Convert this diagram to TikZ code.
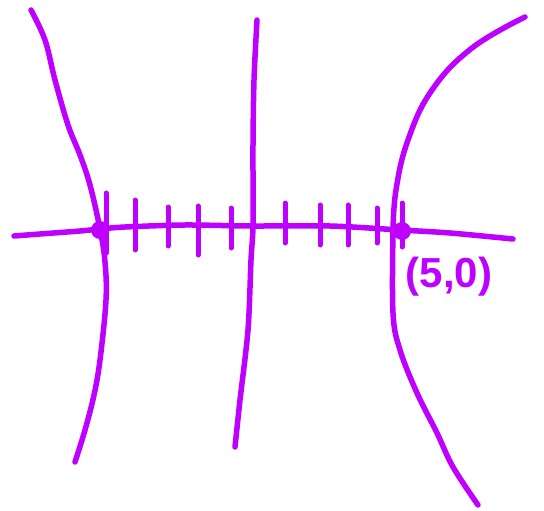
\documentclass[tikz,border=0pt]{standalone}
\usepackage{fontspec}
\setmainfont{Liberation Sans}
\definecolor{pen}{RGB}{190,0,255}
\begin{document}
\begin{tikzpicture}[x=1pt,y=-1pt,
  ink/.style={draw=pen,line width=5.5pt,line cap=round,line join=round},
  tick/.style={ink,line width=5pt},
  vdot/.style={circle,fill=pen,minimum size=18pt,inner sep=0pt},
  lbl/.style={text=pen,font=\bfseries\fontsize{42}{42}\selectfont,inner sep=0pt}]
\useasboundingbox (0,0) rectangle (544,511);
% x-axis
\draw[ink] plot[smooth,tension=0.5] coordinates {(14,236) (40,234) (80,231) (100,229) (125,227) (185,225) (250,226) (330,226) (400,230) (450,233) (513,239)};
% y-axis
\draw[ink] plot[smooth,tension=0.5] coordinates {(257,20) (254,80) (253,145) (253,225) (251,260) (248,330) (240,400) (235,447)};
% ticks
\foreach \x/\a/\b in {106/193/253,135/200/250,168/207/246,198/206/255,231/208/248,285/203/243,320/205/245,348/205/245,377/208/243,402/203/247}
  \draw[tick] (\x,\a) -- (\x,\b);
% left branch
\draw[ink] plot[smooth,tension=0.6] coordinates {(31,10) (45,40) (55,80) (68,125) (80,155) (90,185) (100,229) (105,262) (106,300) (100,360) (94,395) (85,430) (75,462)};
% right branch
\draw[ink] plot[smooth,tension=0.7] coordinates {(525,17) (472,48) (432,90) (408,140) (396,190) (393,232)};
\draw[ink] plot[smooth,tension=0.6] coordinates {(393,232) (393,313) (400,350) (417,393) (437,433) (453,467) (478,505)};
% vertices
\node[vdot] (lv) at (100,230) {};
\node[vdot] (rv) at (402,231) {};
% label
\node[lbl] (lab) at (449,277) {(5,0)};
\end{tikzpicture}
\end{document}
